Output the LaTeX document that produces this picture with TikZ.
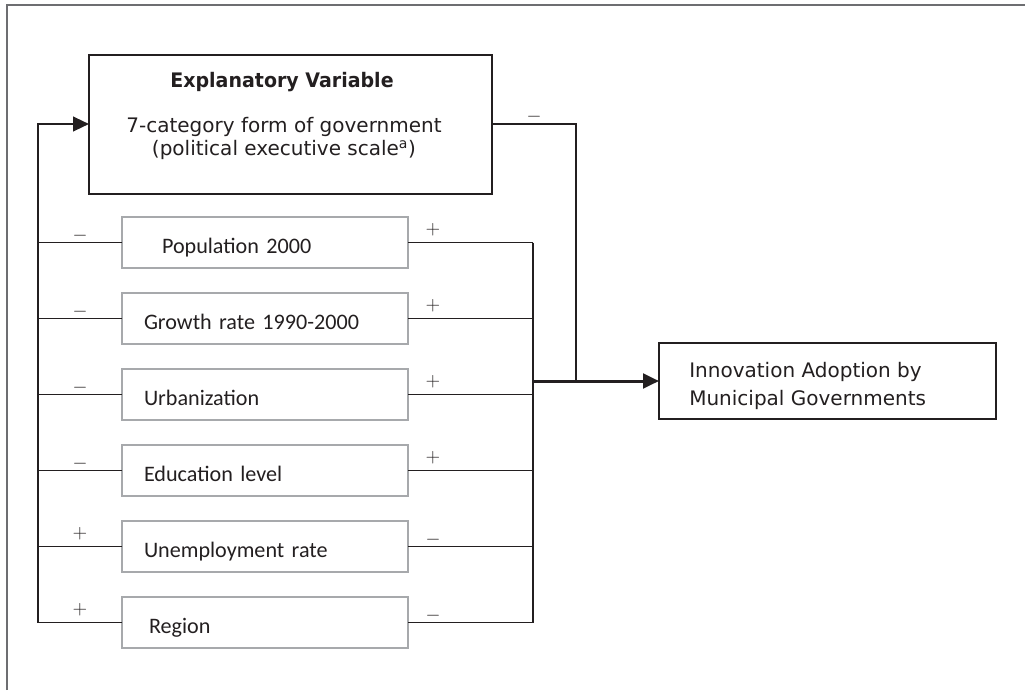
\documentclass[tikz,border=0pt]{standalone}
\usepackage{fontspec}
\setmainfont{DejaVu Sans}
\newfontfamily\calfont{Carlito}
\newfontfamily\headfont[FakeStretch=0.95]{DejaVu Sans}
\usepackage{tikz}
\usetikzlibrary{positioning,arrows.meta}
\definecolor{ink}{HTML}{231F20}
\definecolor{boxgray}{HTML}{A7A9AC}
\definecolor{framegray}{HTML}{6D6E71}
\tikzset{>={Triangle[length=12pt,width=11pt]},
x=0.75pt,y=-0.75pt,
node distance=18.75pt,
conn/.style={draw=ink,line width=1.35pt},
loopline/.style={draw=ink,line width=1.65pt},
mainarrow/.style={draw=ink,line width=2.25pt},
mainbox/.style={rectangle,draw=ink,line width=1.5pt,outer sep=0pt,inner sep=0pt},
predbox/.style={rectangle,draw=boxgray,line width=1.1pt,outer sep=0pt,
  minimum width=214.5pt,minimum height=38.25pt,inner xsep=16.5pt,
  text width=181.5pt,align=left,text height=18pt,text depth=2.25pt,
  font=\calfont\fontsize{16.6}{20}\selectfont},
txt/.style={inner sep=0pt,font=\fontsize{15}{18}\selectfont},
sgn/.style={inner sep=0pt,font=\fontsize{13.5}{16}\selectfont},
pls/.style={sgn,yshift=9.75pt},
mns/.style={sgn,yshift=5.25pt},
}
\begin{document}
\begin{tikzpicture}[color=ink]
	\useasboundingbox (0,0) rectangle (1025,690);
	\draw[framegray,line width=1.5pt] (7,690) -- (7,5) -- (1025,5);

	% boxes
	\node[mainbox,minimum width=302.25pt,minimum height=104.25pt] (expl) at (290.5,124) {};
	\node[txt,anchor=base] (explhead) at (282,87) {\headfont\bfseries Explanatory Variable};
	\node[txt,anchor=base] (explone) at (284,132) {7-category form of government};
	\node[txt,anchor=base] (expltwo) at (284,155) {(political executive scale\textsuperscript{a})};

	\node[mainbox,minimum width=252.75pt,minimum height=57pt] (adopt) at (827.5,381) {};
	\node[txt,anchor=base west] (adoptone) at (689,377) {Innovation Adoption by};
	\node[txt,anchor=base west] (adopttwo) at (689,405) {Municipal Governments};

	\node[predbox] at (265,242.5) (pop) {\hspace*{13.5pt}Population 2000};
	\node[predbox,below= of pop] (grow) {Growth rate 1990-2000};
	\node[predbox,below= of grow] (urb) {Urbanization};
	\node[predbox,below= of urb] (edu) {Education level};
	\node[predbox,below= of edu] (unemp) {Unemployment rate};
	\node[predbox,below= of unemp] (reg) {\hspace*{3.75pt}Region};

	\coordinate (lx) at (38,0);
	\coordinate (rx) at (533,0);
	\coordinate (ex) at (576,0);

	% left side
	\draw[conn] (pop.west) -- node[mns] {$-$} (pop.west -| lx);
	\draw[conn] (grow.west) -- node[mns] {$-$} (grow.west -| lx);
	\draw[conn] (urb.west) -- node[mns] {$-$} (urb.west -| lx);
	\draw[conn] (edu.west) -- node[mns] {$-$} (edu.west -| lx);
	\draw[conn] (unemp.west) -- node[pls] {$+$} (unemp.west -| lx);
	\draw[conn] (reg.west) -- node[pls] {$+$} (reg.west -| lx);
	\draw[loopline,->] (reg.west -| lx) -- (expl.west -| lx) -- (expl.west);

	% right side
	\draw[conn] (pop.east) -- node[pls,pos=0.2] {$+$} (pop.east -| rx);
	\draw[conn] (grow.east) -- node[pls,pos=0.2] {$+$} (grow.east -| rx);
	\draw[conn] (urb.east) -- node[pls,pos=0.2] {$+$} (urb.east -| rx);
	\draw[conn] (edu.east) -- node[pls,pos=0.2] {$+$} (edu.east -| rx);
	\draw[conn] (unemp.east) -- node[mns,pos=0.2] {$-$} (unemp.east -| rx);
	\draw[conn] (reg.east) -- node[mns,pos=0.2] {$-$} (reg.east -| rx);
	\draw[conn] (pop.east -| rx) -- (reg.east -| rx);

	\draw[conn] (expl.east) -- node[mns] {$-$} (expl.east -| ex) -- (adopt.west -| ex);
	\draw[mainarrow,->] (adopt.west -| rx) -- (adopt.west);
\end{tikzpicture}
\end{document}
